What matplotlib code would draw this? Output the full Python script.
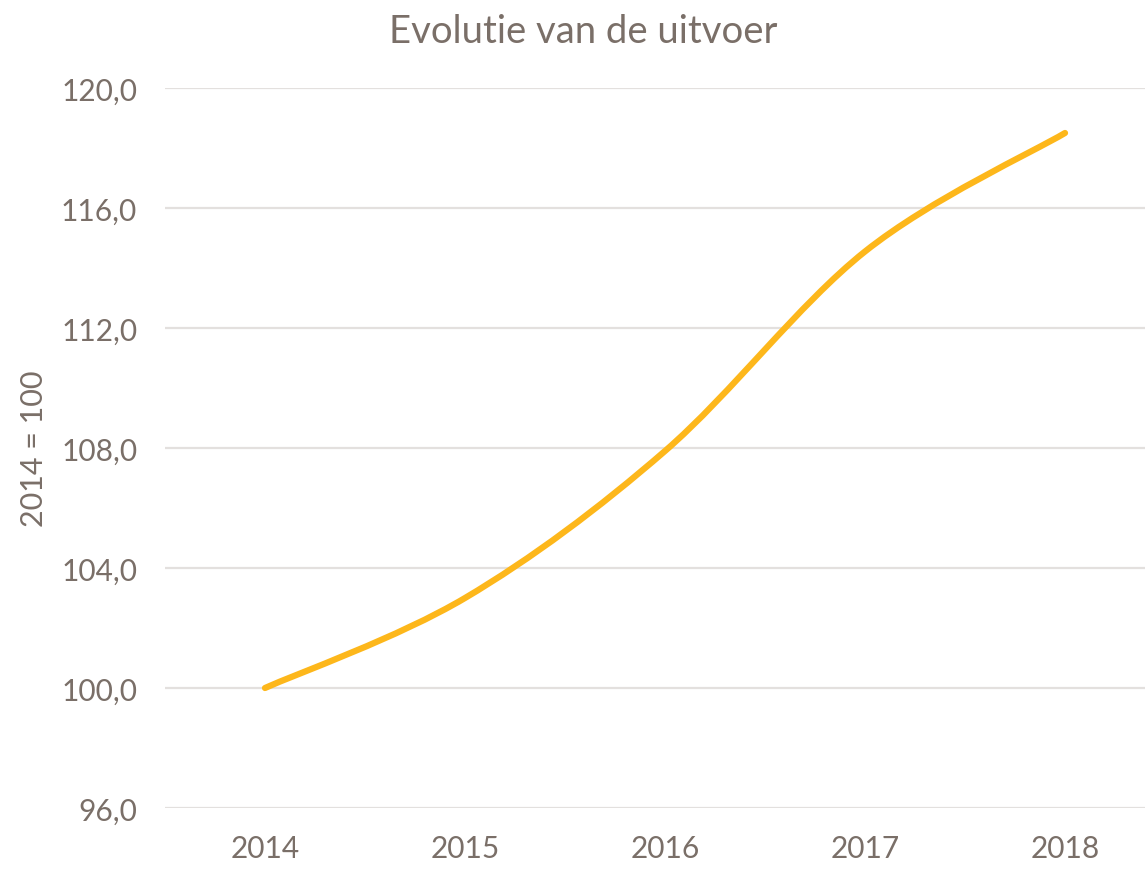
import numpy as np
import matplotlib.pyplot as plt
from matplotlib.path import Path
from matplotlib.patches import PathPatch

years = ["2014", "2015", "2016", "2017", "2018"]
index_values = [100.0, 103.0, 107.9, 114.55, 118.5]
y_ticks = [96, 100, 104, 108, 112, 116, 120]

TEXT = "#7a6f68"
GRID = "#e3e0de"
LINE = "#fdb71b"

plt.rcParams["font.family"] = ["Lato", "DejaVu Sans"]

fig = plt.figure(figsize=(11.45, 8.7), dpi=100)
ax = fig.add_axes([165 / 1145, 1 - 809 / 870, 980 / 1145, 720 / 870])

# Excel style smoothed line: cubic Bezier segments through the points
x = np.arange(len(index_values), dtype=float)
y = np.array(index_values)
px = np.concatenate([[x[0]], x, [x[-1]]])
py = np.concatenate([[y[0]], y, [y[-1]]])
verts = [(x[0], y[0])]
codes = [Path.MOVETO]
for i in range(len(x) - 1):
    j = i + 1
    c1 = (px[j] + (px[j + 1] - px[j - 1]) / 6, py[j] + (py[j + 1] - py[j - 1]) / 6)
    c2 = (px[j + 1] - (px[j + 2] - px[j]) / 6, py[j + 1] - (py[j + 2] - py[j]) / 6)
    verts += [c1, c2, (x[j], y[j])]
    codes += [Path.CURVE4] * 3
ax.add_patch(PathPatch(Path(verts, codes), facecolor="none", edgecolor=LINE,
                       lw=4.5, capstyle="round", zorder=3))

ax.set_xlim(-0.5, 4.4)
ax.set_ylim(96, 120)
ax.set_yticks(y_ticks)
ax.set_yticklabels([f"{v:.1f}".replace(".", ",") for v in y_ticks])
ax.set_xticks(x)
ax.set_xticklabels(years)
ax.grid(axis="y", color=GRID, lw=1.6)
ax.set_axisbelow(True)
for s in ax.spines.values():
    s.set_visible(False)
ax.tick_params(length=0, labelsize=21.5, colors=TEXT)
ax.tick_params(axis="y", pad=20)
ax.tick_params(axis="x", pad=19)

ax.set_ylabel("2014 = 100", fontsize=22, color=TEXT, labelpad=9)
fig.text(583 / 1145, 1 - 32 / 870, "Evolutie van de uitvoer", ha="center", va="center",
         fontsize=27.5, color=TEXT)

fig.savefig("out.png", dpi=100)
